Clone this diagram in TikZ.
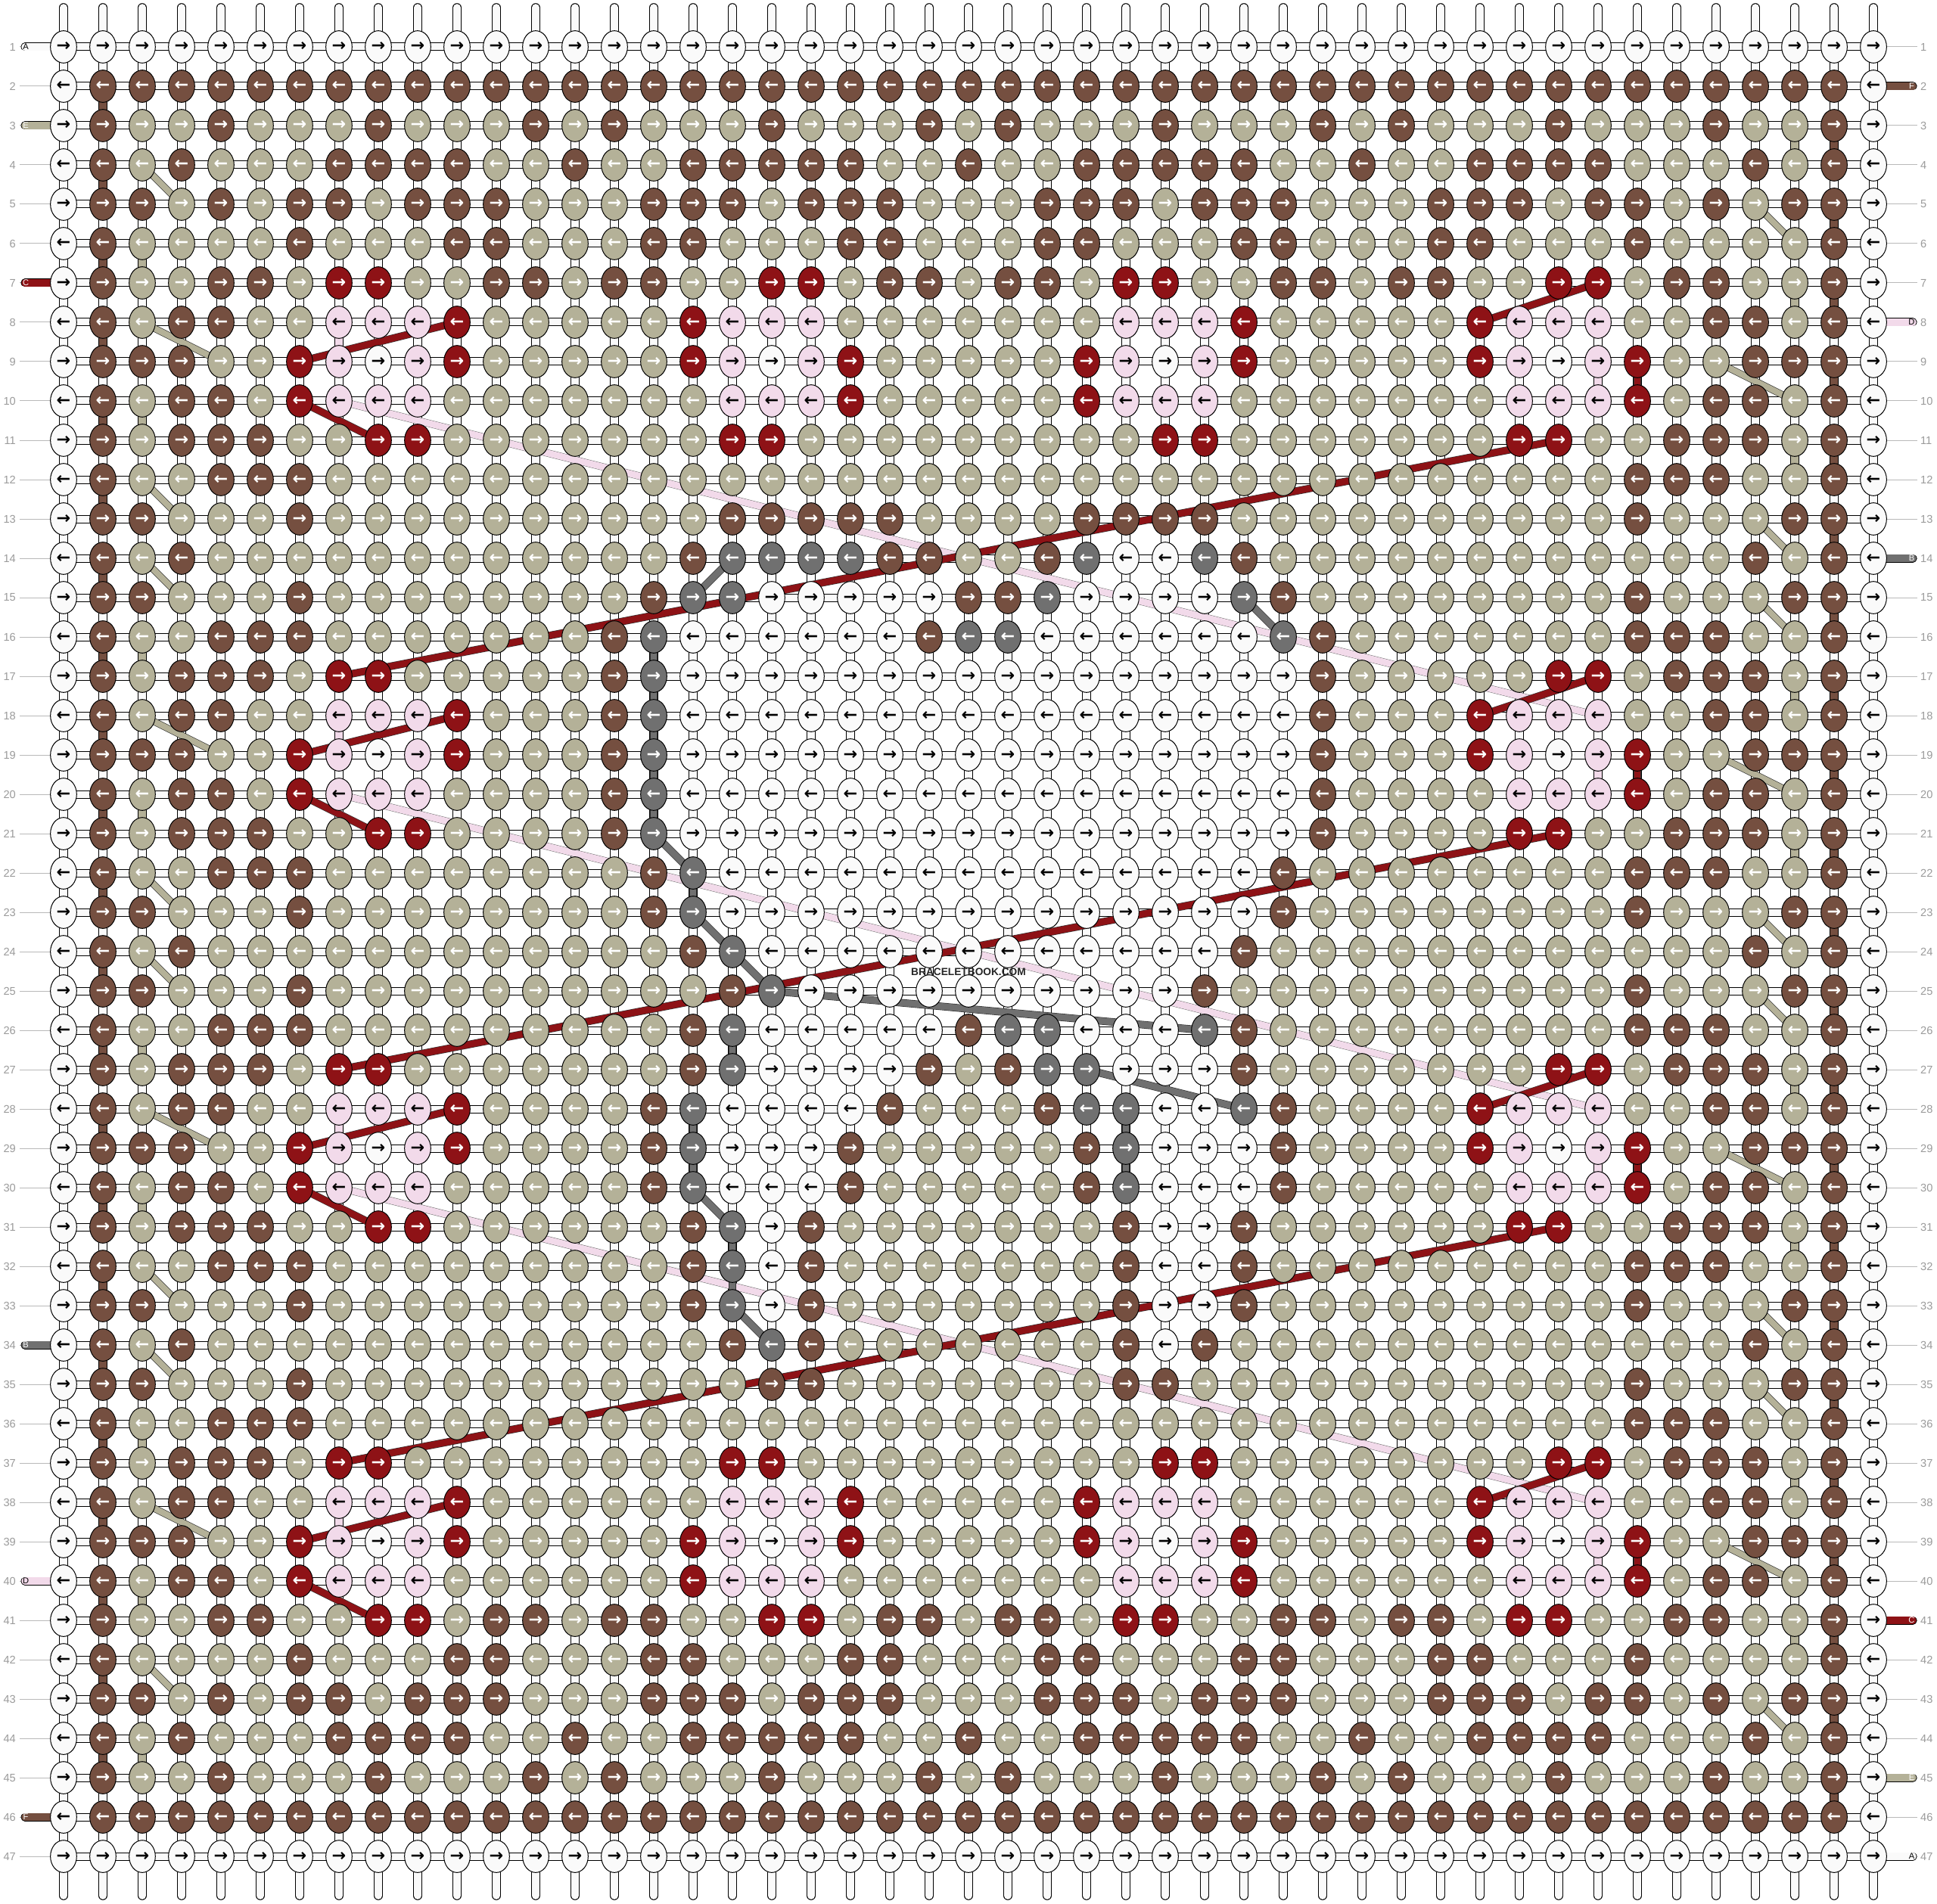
\documentclass[tikz,border=0pt]{standalone}
\usepackage{fontspec}
\setmainfont{Liberation Sans}
\newfontfamily\arrowfont{DejaVu Sans}
\usetikzlibrary{shapes.geometric}

\definecolor{knotW}{HTML}{FAFAFA}
\definecolor{knotB}{HTML}{754F40}
\definecolor{knotK}{HTML}{B4B198}
\definecolor{knotR}{HTML}{8E1216}
\definecolor{knotP}{HTML}{F2DAEA}
\definecolor{knotG}{HTML}{707070}
\colorlet{arrW}{black}
\colorlet{arrP}{black}
\colorlet{arrB}{white}
\colorlet{arrK}{white}
\colorlet{arrR}{white}
\colorlet{arrG}{white}
\definecolor{numgray}{HTML}{9B9B9B}

\pgfdeclarelayer{paper}
\pgfdeclarelayer{tubes}
\pgfdeclarelayer{threads}
\pgfsetlayers{paper,tubes,threads,main}

\tikzset{
    knot/.style = {ellipse, draw=black, line width=0.3mm, inner sep=0pt, minimum width=10.4mm, minimum height=12.8mm, font=\arrowfont\bfseries\fontsize{19}{19}\selectfont},
    tube/.style = {draw=black, line width=3.5mm, line cap=round},
    tube-fill/.style = {draw=knotW, line width=2.9mm, line cap=round},
    htube/.style = {draw=black, line width=3.3mm},
    htube-fill/.style = {draw=knotW, line width=2.7mm},
    link/.style = {draw=black, line width=0.3mm, double distance=2.9mm},
    rownum/.style = {text=numgray, inner sep=0pt, font=\fontsize{12.5}{12.5}\selectfont},
    numline/.style = {draw=numgray!70, line width=0.3mm},
    thread/.style = {draw=black!80, line width=0.2mm, double distance=2.5mm, line cap=round},
    stub/.style = {draw=black, line width=0.25mm, double distance=2.8mm, line cap=round},
    stub-letter/.style = {inner sep=0pt, font=\fontsize{9.5}{9.5}\selectfont},
}

% one list of knot colours per row
\newcommand\knotrow[2]{\expandafter\def\csname knotrow#1\endcsname{#2}}
\knotrow{1}{W,W,W,W,W,W,W,W,W,W,W,W,W,W,W,W,W,W,W,W,W,W,W,W,W,W,W,W,W,W,W,W,W,W,W,W,W,W,W,W,W,W,W,W,W,W,W}
\knotrow{2}{W,B,B,B,B,B,B,B,B,B,B,B,B,B,B,B,B,B,B,B,B,B,B,B,B,B,B,B,B,B,B,B,B,B,B,B,B,B,B,B,B,B,B,B,B,B,W}
\knotrow{3}{W,B,K,K,B,K,K,K,B,K,K,K,B,K,B,K,K,K,B,K,K,K,B,K,B,K,K,K,B,K,K,K,B,K,B,K,K,K,B,K,K,K,B,K,K,B,W}
\knotrow{4}{W,B,K,B,K,K,K,B,B,B,B,K,K,B,K,K,B,B,B,B,B,K,K,B,K,K,B,B,B,B,B,K,K,B,K,K,B,B,B,B,K,K,K,B,K,B,W}
\knotrow{5}{W,B,B,K,B,K,B,B,K,B,B,B,K,K,K,B,B,B,K,B,B,B,K,K,K,B,B,B,K,B,B,B,K,K,K,B,B,B,K,B,B,K,B,K,B,B,W}
\knotrow{6}{W,B,K,K,K,K,B,K,K,K,B,B,K,K,K,B,B,K,K,K,B,B,K,K,K,B,B,K,K,K,B,B,K,K,K,B,B,K,K,K,B,K,K,K,K,B,W}
\knotrow{7}{W,B,K,K,B,B,K,R,R,K,K,B,B,K,B,B,K,K,R,R,K,B,B,K,B,B,K,R,R,K,K,B,B,K,B,B,K,K,R,R,K,B,B,K,K,B,W}
\knotrow{8}{W,B,K,B,B,K,K,P,P,P,R,K,K,K,K,K,R,P,P,P,K,K,K,K,K,K,K,P,P,P,R,K,K,K,K,K,R,P,P,P,K,K,B,B,K,B,W}
\knotrow{9}{W,B,B,B,K,K,R,P,W,P,R,K,K,K,K,K,R,P,W,P,R,K,K,K,K,K,R,P,W,P,R,K,K,K,K,K,R,P,W,P,R,K,K,B,B,B,W}
\knotrow{10}{W,B,K,B,B,K,R,P,P,P,K,K,K,K,K,K,K,P,P,P,R,K,K,K,K,K,R,P,P,P,K,K,K,K,K,K,K,P,P,P,R,K,B,B,K,B,W}
\knotrow{11}{W,B,K,B,B,B,K,K,R,R,K,K,K,K,K,K,K,R,R,K,K,K,K,K,K,K,K,K,R,R,K,K,K,K,K,K,K,R,R,K,K,B,B,B,K,B,W}
\knotrow{12}{W,B,K,K,B,B,B,K,K,K,K,K,K,K,K,K,K,K,K,K,K,K,K,K,K,K,K,K,K,K,K,K,K,K,K,K,K,K,K,K,B,B,B,K,K,B,W}
\knotrow{13}{W,B,B,K,K,K,B,K,K,K,K,K,K,K,K,K,K,B,B,B,B,B,K,K,K,K,B,B,B,B,K,K,K,K,K,K,K,K,K,K,B,K,K,K,B,B,W}
\knotrow{14}{W,B,K,B,K,K,K,K,K,K,K,K,K,K,K,K,B,G,G,G,G,B,B,K,K,B,G,W,W,G,B,K,K,K,K,K,K,K,K,K,K,K,K,B,K,B,W}
\knotrow{15}{W,B,B,K,K,K,B,K,K,K,K,K,K,K,K,B,G,G,W,W,W,W,W,B,B,G,W,W,W,W,G,B,K,K,K,K,K,K,K,K,B,K,K,K,B,B,W}
\knotrow{16}{W,B,K,K,B,B,B,K,K,K,K,K,K,K,B,G,W,W,W,W,W,W,B,G,G,W,W,W,W,W,W,G,B,K,K,K,K,K,K,K,B,B,B,K,K,B,W}
\knotrow{17}{W,B,K,B,B,B,K,R,R,K,K,K,K,K,B,G,W,W,W,W,W,W,W,W,W,W,W,W,W,W,W,W,B,K,K,K,K,K,R,R,K,B,B,B,K,B,W}
\knotrow{18}{W,B,K,B,B,K,K,P,P,P,R,K,K,K,B,G,W,W,W,W,W,W,W,W,W,W,W,W,W,W,W,W,B,K,K,K,R,P,P,P,K,K,B,B,K,B,W}
\knotrow{19}{W,B,B,B,K,K,R,P,W,P,R,K,K,K,B,G,W,W,W,W,W,W,W,W,W,W,W,W,W,W,W,W,B,K,K,K,R,P,W,P,R,K,K,B,B,B,W}
\knotrow{20}{W,B,K,B,B,K,R,P,P,P,K,K,K,K,B,G,W,W,W,W,W,W,W,W,W,W,W,W,W,W,W,W,B,K,K,K,K,P,P,P,R,K,B,B,K,B,W}
\knotrow{21}{W,B,K,B,B,B,K,K,R,R,K,K,K,K,B,G,W,W,W,W,W,W,W,W,W,W,W,W,W,W,W,W,B,K,K,K,K,R,R,K,K,B,B,B,K,B,W}
\knotrow{22}{W,B,K,K,B,B,B,K,K,K,K,K,K,K,K,B,G,W,W,W,W,W,W,W,W,W,W,W,W,W,W,B,K,K,K,K,K,K,K,K,B,B,B,K,K,B,W}
\knotrow{23}{W,B,B,K,K,K,B,K,K,K,K,K,K,K,K,B,G,W,W,W,W,W,W,W,W,W,W,W,W,W,W,B,K,K,K,K,K,K,K,K,B,K,K,K,B,B,W}
\knotrow{24}{W,B,K,B,K,K,K,K,K,K,K,K,K,K,K,K,B,G,W,W,W,W,W,W,W,W,W,W,W,W,B,K,K,K,K,K,K,K,K,K,K,K,K,B,K,B,W}
\knotrow{25}{W,B,B,K,K,K,B,K,K,K,K,K,K,K,K,K,K,B,G,W,W,W,W,W,W,W,W,W,W,B,K,K,K,K,K,K,K,K,K,K,B,K,K,K,B,B,W}
\knotrow{26}{W,B,K,K,B,B,B,K,K,K,K,K,K,K,K,K,B,G,W,W,W,W,W,B,G,G,W,W,W,G,B,K,K,K,K,K,K,K,K,K,B,B,B,K,K,B,W}
\knotrow{27}{W,B,K,B,B,B,K,R,R,K,K,K,K,K,K,K,B,G,W,W,W,W,B,K,B,G,G,W,W,W,B,K,K,K,K,K,K,K,R,R,K,B,B,B,K,B,W}
\knotrow{28}{W,B,K,B,B,K,K,P,P,P,R,K,K,K,K,B,G,W,W,W,W,B,K,K,K,B,G,G,W,W,G,B,K,K,K,K,R,P,P,P,K,K,B,B,K,B,W}
\knotrow{29}{W,B,B,B,K,K,R,P,W,P,R,K,K,K,K,B,G,W,W,W,B,K,K,K,K,K,B,G,W,W,W,B,K,K,K,K,R,P,W,P,R,K,K,B,B,B,W}
\knotrow{30}{W,B,K,B,B,K,R,P,P,P,K,K,K,K,K,B,G,W,W,W,B,K,K,K,K,K,B,G,W,W,W,B,K,K,K,K,K,P,P,P,R,K,B,B,K,B,W}
\knotrow{31}{W,B,K,B,B,B,K,K,R,R,K,K,K,K,K,K,B,G,W,B,K,K,K,K,K,K,K,B,W,W,B,K,K,K,K,K,K,R,R,K,K,B,B,B,K,B,W}
\knotrow{32}{W,B,K,K,B,B,B,K,K,K,K,K,K,K,K,K,B,G,W,B,K,K,K,K,K,K,K,B,W,W,B,K,K,K,K,K,K,K,K,K,B,B,B,K,K,B,W}
\knotrow{33}{W,B,B,K,K,K,B,K,K,K,K,K,K,K,K,K,B,G,W,B,K,K,K,K,K,K,K,B,W,W,B,K,K,K,K,K,K,K,K,K,B,K,K,K,B,B,W}
\knotrow{34}{W,B,K,B,K,K,K,K,K,K,K,K,K,K,K,K,K,B,G,B,K,K,K,K,K,K,K,B,W,B,K,K,K,K,K,K,K,K,K,K,K,K,K,B,K,B,W}
\knotrow{35}{W,B,B,K,K,K,B,K,K,K,K,K,K,K,K,K,K,K,B,B,K,K,K,K,K,K,K,B,B,K,K,K,K,K,K,K,K,K,K,K,B,K,K,K,B,B,W}
\knotrow{36}{W,B,K,K,B,B,B,K,K,K,K,K,K,K,K,K,K,K,K,K,K,K,K,K,K,K,K,K,K,K,K,K,K,K,K,K,K,K,K,K,B,B,B,K,K,B,W}
\knotrow{37}{W,B,K,B,B,B,K,R,R,K,K,K,K,K,K,K,K,R,R,K,K,K,K,K,K,K,K,K,R,R,K,K,K,K,K,K,K,K,R,R,K,B,B,B,K,B,W}
\knotrow{38}{W,B,K,B,B,K,K,P,P,P,R,K,K,K,K,K,K,P,P,P,R,K,K,K,K,K,R,P,P,P,K,K,K,K,K,K,R,P,P,P,K,K,B,B,K,B,W}
\knotrow{39}{W,B,B,B,K,K,R,P,W,P,R,K,K,K,K,K,R,P,W,P,R,K,K,K,K,K,R,P,W,P,R,K,K,K,K,K,R,P,W,P,R,K,K,B,B,B,W}
\knotrow{40}{W,B,K,B,B,K,R,P,P,P,K,K,K,K,K,K,R,P,P,P,K,K,K,K,K,K,K,P,P,P,R,K,K,K,K,K,K,P,P,P,R,K,B,B,K,B,W}
\knotrow{41}{W,B,K,K,B,B,K,K,R,R,K,B,B,K,B,B,K,K,R,R,K,B,B,K,B,B,K,R,R,K,K,B,B,K,B,B,K,R,R,K,K,B,B,K,K,B,W}
\knotrow{42}{W,B,K,K,K,K,B,K,K,K,B,B,K,K,K,B,B,K,K,K,B,B,K,K,K,B,B,K,K,K,B,B,K,K,K,B,B,K,K,K,B,K,K,K,K,B,W}
\knotrow{43}{W,B,B,K,B,K,B,B,K,B,B,B,K,K,K,B,B,B,K,B,B,B,K,K,K,B,B,B,K,B,B,B,K,K,K,B,B,B,K,B,B,K,B,K,B,B,W}
\knotrow{44}{W,B,K,B,K,K,K,B,B,B,B,K,K,B,K,K,B,B,B,B,B,K,K,B,K,K,B,B,B,B,B,K,K,B,K,K,B,B,B,B,K,K,K,B,K,B,W}
\knotrow{45}{W,B,K,K,B,K,K,K,B,K,K,K,B,K,B,K,K,K,B,K,K,K,B,K,B,K,K,K,B,K,K,K,B,K,B,K,K,K,B,K,K,K,B,K,K,B,W}
\knotrow{46}{W,B,B,B,B,B,B,B,B,B,B,B,B,B,B,B,B,B,B,B,B,B,B,B,B,B,B,B,B,B,B,B,B,B,B,B,B,B,B,B,B,B,B,B,B,B,W}
\knotrow{47}{W,W,W,W,W,W,W,W,W,W,W,W,W,W,W,W,W,W,W,W,W,W,W,W,W,W,W,W,W,W,W,W,W,W,W,W,W,W,W,W,W,W,W,W,W,W,W}

\begin{document}
\begin{tikzpicture}[x=1.56cm, y=-1.56cm]
\begin{pgfonlayer}{paper}
    \fill[white] (-0.615,-0.192) rectangle (48.615,48.192);
\end{pgfonlayer}
\useasboundingbox (-0.615,-0.192) rectangle (48.615,48.192);

\foreach \r in {1,...,47} {
    \expandafter\let\expandafter\cells\csname knotrow\r\endcsname
    \foreach \k [count=\c] in \cells {
        \node[knot, fill=knot\k, text=arr\k] (k-\r-\c) at (\c,\r) {\ifodd\r\relax →\else ←\fi};
    }
    \node[rownum, anchor=east] (nl-\r) at (-0.21,\r) {\r};
    \node[rownum, anchor=west] (nr-\r) at (48.19,\r) {\r};
}

\begin{pgfonlayer}{tubes}
    \foreach \c in {1,...,47} {
        \coordinate (top-\c) at (\c,0);
        \coordinate (bot-\c) at (\c,48);
        \draw[tube] (top-\c) -- (bot-\c);
        \draw[tube-fill] (top-\c) -- (bot-\c);
    }
    \foreach \r in {1,...,47} {
        \draw[htube] (k-\r-1.center) -- (k-\r-47.center);
        \draw[htube-fill] (k-\r-1.center) -- (k-\r-47.center);
        \draw[numline, shorten <=1.5mm] (nl-\r.east) -- (k-\r-1.west);
        \draw[numline, shorten >=1.2mm] (k-\r-47.east) -- (nr-\r.west);
    }
    \foreach \r/\col in {1/knotW, 3/knotK, 7/knotR, 34/knotG, 40/knotP, 46/knotB} {
        \coordinate (sl-\r) at (0.02,\r);
        \draw[stub, double=\col] (sl-\r) -- (k-\r-1.center);
    }
    \foreach \r/\col in {2/knotB, 8/knotP, 14/knotG, 41/knotR, 45/knotK, 47/knotW} {
        \coordinate (sr-\r) at (48.0,\r);
        \draw[stub, double=\col] (sr-\r) -- (k-\r-47.center);
    }
    % coloured links between rows
    \foreach \r [evaluate=\r as \s using int(\r+1)] in {2,4,...,44}
        \draw[link, double=knotB] (k-\r-2.center) -- (k-\s-2.center);
    \foreach \r [evaluate=\r as \s using int(\r+1)] in {3,5,...,45}
        \draw[link, double=knotB] (k-\r-46.center) -- (k-\s-46.center);
    \foreach \r [evaluate=\r as \s using int(\r+1)] in {6,10,16,20,26,30,36,40,44}
        \draw[link, double=knotK] (k-\r-3.center) -- (k-\s-3.center);
    \foreach \r [evaluate=\r as \s using int(\r+1)] in {3,7,11,17,21,27,31,37,41}
        \draw[link, double=knotK] (k-\r-45.center) -- (k-\s-45.center);
    \foreach \r/\c in {8/8, 18/8, 28/8, 38/8, 9/40, 19/40, 29/40, 39/40} {
        \pgfmathtruncatemacro\s{\r+1}
        \draw[link, double=knotP] (k-\r-\c.center) -- (k-\s-\c.center);
    }
\end{pgfonlayer}

\foreach \r/\lab/\tc in {1/A/black, 3/E/white, 7/C/white, 34/B/white, 40/D/black, 46/F/white}
    \node[stub-letter, text=\tc] (ls-\r) at (0.04,\r) {\lab};
\foreach \r/\lab/\tc in {2/F/white, 8/D/black, 14/B/white, 41/C/white, 45/E/white, 47/A/black}
    \node[stub-letter, text=\tc] (rs-\r) at (47.97,\r) {\lab};

\begin{pgfonlayer}{threads}
    \foreach \a/\b in {4-3/5-4, 8-3/9-5, 12-3/13-4, 14-3/15-4, 18-3/19-5, 22-3/23-4, 24-3/25-4, 28-3/29-5, 32-3/33-4, 34-3/35-4, 38-3/39-5, 42-3/43-4, 5-44/6-45, 9-43/10-45, 13-44/14-45, 15-44/16-45, 19-43/20-45, 23-44/24-45, 25-44/26-45, 29-43/30-45, 33-44/34-45, 35-44/36-45, 39-43/40-45, 43-44/44-45}
        \draw[thread, double=knotK, double distance=2.4mm] (k-\a.center) -- (k-\b.center);
    \foreach \a/\b in {10-8/18-40, 20-8/28-40, 30-8/38-40}
        \draw[thread, double=knotP, double distance=2.6mm, draw=black!55, line width=0.15mm] (k-\a.center) -- (k-\b.center);
    \foreach \a/\b in {9-7/8-11, 10-7/11-9, 19-7/18-11, 20-7/21-9, 29-7/28-11, 30-7/31-9, 39-7/38-11, 40-7/41-9, 8-37/7-40, 18-37/17-40, 28-37/27-40, 38-37/37-40, 9-41/10-41, 19-41/20-41, 29-41/30-41, 39-41/40-41, 11-39/17-8, 21-39/27-8, 31-39/37-8}
        \draw[thread, double=knotR, double distance=2.6mm] (k-\a.center) -- (k-\b.center);
    \foreach \a/\b in {14-18/15-17, 15-31/16-32, 16-16/21-16, 21-16/22-17, 22-17/23-17, 23-17/24-18, 24-18/25-19, 25-19/26-30, 26-18/27-18, 27-27/28-31, 28-17/30-17, 30-17/31-18, 31-18/33-18, 33-18/34-19, 28-28/30-28}
        \draw[thread, double=knotG, double distance=2.6mm] (k-\a.center) -- (k-\b.center);
\end{pgfonlayer}

\node[inner sep=0pt, text=black!85, font=\bfseries\fontsize{11.7}{12}\selectfont] (brand) at (24,24.52) {BRACELETBOOK.COM};
\end{tikzpicture}
\end{document}
